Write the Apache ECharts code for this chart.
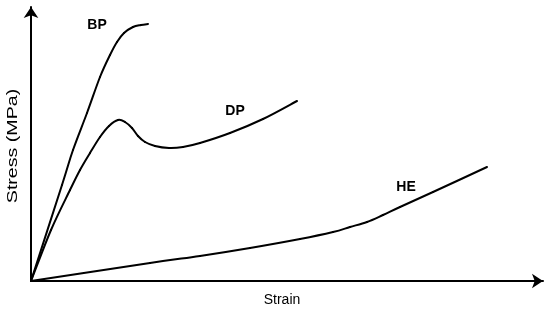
<!DOCTYPE html>
<html>
<head>
<meta charset="utf-8">
<script src="https://cdn.jsdelivr.net/npm/echarts@6/dist/echarts.min.js"></script>
<style>
  html, body { margin: 0; padding: 0; background: #fff; }
  #chart { width: 550px; height: 313px; }
</style>
</head>
<body>
<div id="chart"></div>
<script>
// curve points [strain, stress] (arbitrary units)
var bpPoints = [[0, 0], [31, 96], [42, 131], [56, 168], [69, 204], [79, 226], [86, 239], [93, 248], [102, 254], [110, 256], [117, 257]];
var dpPoints = [[0, 0], [20, 51], [39, 91], [49, 111], [59, 128], [69, 144], [78, 155], [87, 161], [94, 159], [101, 153], [107, 145], [114, 139], [124, 135], [138, 133], [152, 134], [169, 138], [199, 148], [232, 162], [266, 180]];
var hePoints = [[0, 0], [119, 18], [169, 25], [219, 33], [269, 42], [302, 49], [319, 54], [336, 59], [352, 66], [369, 74], [402, 89], [456, 114]];
var seriesNames = ['BP', 'DP', 'HE'];

var chart = echarts.init(document.getElementById('chart'));

var font = '"Liberation Sans", Arial, sans-serif';

// smooth curve through the points: one bezier piece per segment (catmull-rom control points)
function curve(name, pts) {
  return {
    name: name,
    type: 'custom',
    data: pts,
    clip: false,
    renderItem: function (params, api) {
      var i = params.dataIndex;
      if (i >= pts.length - 1) return null;
      var p0 = api.coord(pts[Math.max(i - 1, 0)]);
      var p1 = api.coord(pts[i]);
      var p2 = api.coord(pts[i + 1]);
      var p3 = api.coord(pts[Math.min(i + 2, pts.length - 1)]);
      return {
        type: 'bezierCurve',
        shape: {
          x1: p1[0], y1: p1[1],
          cpx1: p1[0] + (p2[0] - p0[0]) / 6, cpy1: p1[1] + (p2[1] - p0[1]) / 6,
          cpx2: p2[0] - (p3[0] - p1[0]) / 6, cpy2: p2[1] - (p3[1] - p1[1]) / 6,
          x2: p2[0], y2: p2[1]
        },
        style: { stroke: '#000', lineWidth: 2, fill: null, lineCap: 'round' }
      };
    }
  };
}

chart.setOption({
  animation: false,
  backgroundColor: '#fff',
  grid: { left: 31, right: 7, top: 7, bottom: 32 },
  xAxis: {
    type: 'value', min: 0, max: 512,
    axisLine: { lineStyle: { color: '#000', width: 2 }, symbol: ['none', 'arrow'], symbolSize: [11, 11] },
    axisTick: { show: false }, axisLabel: { show: false }, splitLine: { show: false }
  },
  yAxis: {
    type: 'value', min: 0, max: 274,
    axisLine: { lineStyle: { color: '#000', width: 2 }, symbol: ['none', 'arrow'], symbolSize: [11, 11] },
    axisTick: { show: false }, axisLabel: { show: false }, splitLine: { show: false }
  },
  series: [
    curve(seriesNames[0], bpPoints),
    curve(seriesNames[1], dpPoints),
    curve(seriesNames[2], hePoints)
  ],
  graphic: [
    { type: 'text', x: 13, y: 146, rotation: Math.PI / 2, scaleX: 1.4,
      style: { text: 'Stress (MPa)', font: '14px ' + font, fill: '#000', align: 'center', verticalAlign: 'middle' } },
    { type: 'text', x: 282, y: 300,
      style: { text: 'Strain', font: '14px ' + font, fill: '#000', align: 'center', verticalAlign: 'middle' } },
    { type: 'text', x: 97, y: 25,
      style: { text: seriesNames[0], font: 'bold 14px ' + font, fill: '#000', align: 'center', verticalAlign: 'middle' } },
    { type: 'text', x: 235, y: 111,
      style: { text: seriesNames[1], font: 'bold 14px ' + font, fill: '#000', align: 'center', verticalAlign: 'middle' } },
    { type: 'text', x: 406, y: 187,
      style: { text: seriesNames[2], font: 'bold 14px ' + font, fill: '#000', align: 'center', verticalAlign: 'middle' } }
  ]
});
</script>
</body>
</html>
